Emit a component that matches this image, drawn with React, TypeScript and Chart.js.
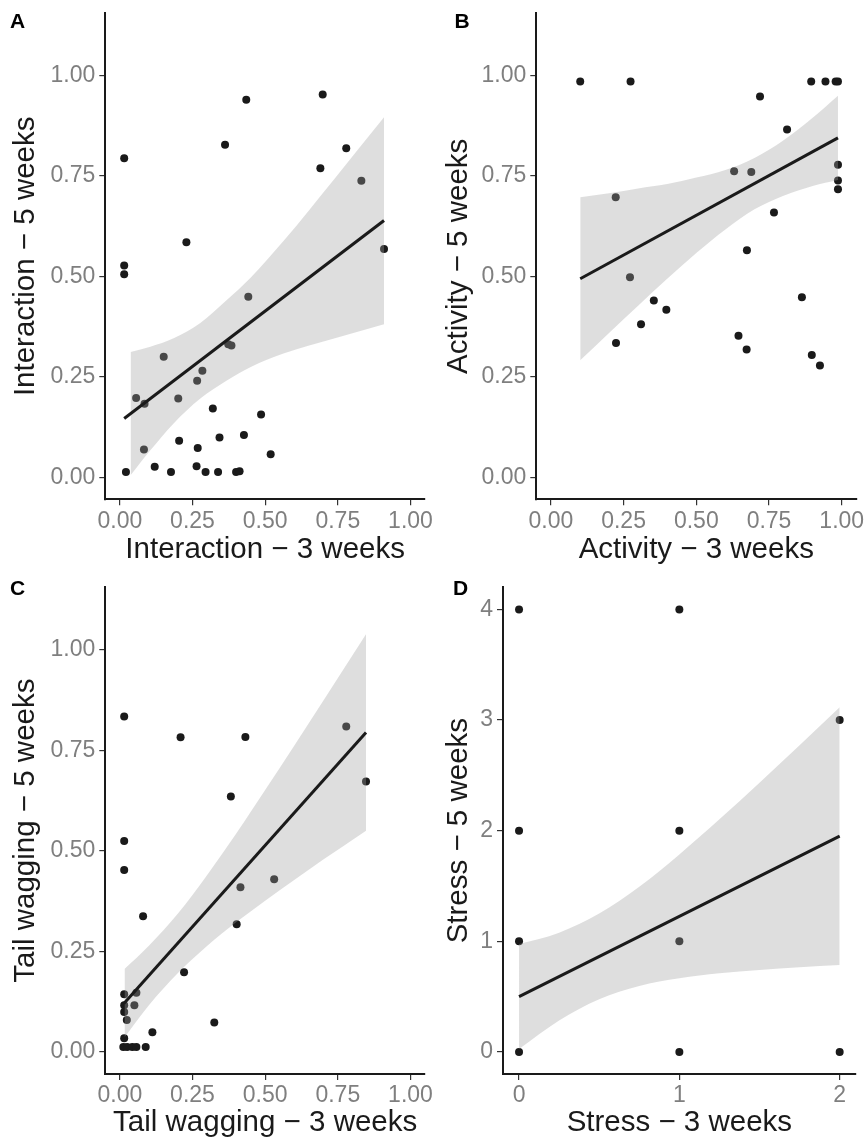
import React, { useEffect, useRef } from 'react';
import { Chart, registerables } from 'chart.js';

Chart.register(...registerables);

const FONT = '"Liberation Sans", Arial, Helvetica, sans-serif';
const INK = '#1a1a1a';
const TICK_TEXT = '#7f7f7f';
const RIBBON = 'rgba(160,160,160,0.35)';

// ---------- Panel A : Interaction ----------
const interaction3 = [0.015, 0.435, 0.698, 0.362, 0.779, 0.690, 0.831, 0.229, 0.909, 0.015, 0.015, 0.442, 0.151, 0.373, 0.384, 0.284, 0.266, 0.056, 0.085, 0.201, 0.320, 0.486, 0.204, 0.268, 0.343, 0.427, 0.519, 0.083, 0.021, 0.120, 0.176, 0.264, 0.295, 0.338, 0.400, 0.412];
const interaction5 = [0.794, 0.940, 0.953, 0.828, 0.819, 0.769, 0.738, 0.585, 0.568, 0.527, 0.505, 0.449, 0.300, 0.331, 0.328, 0.265, 0.240, 0.197, 0.183, 0.196, 0.171, 0.156, 0.091, 0.073, 0.099, 0.105, 0.057, 0.069, 0.013, 0.026, 0.013, 0.027, 0.013, 0.013, 0.013, 0.015];
const interactionFitX = [0.015, 0.909];
const interactionFitY = [0.146, 0.639];
const interactionBandX = [0.037, 0.105, 0.185, 0.277, 0.368, 0.449, 0.563, 0.734, 0.909];
const interactionBandHi = [0.312, 0.325, 0.346, 0.384, 0.441, 0.496, 0.588, 0.739, 0.896];
const interactionBandLo = [0.005, 0.067, 0.134, 0.196, 0.241, 0.274, 0.308, 0.345, 0.381];

// ---------- Panel B : Activity ----------
const activity3 = [0.101, 0.274, 0.895, 0.944, 0.979, 0.987, 0.719, 0.812, 0.630, 0.689, 0.987, 0.987, 0.987, 0.223, 0.767, 0.674, 0.272, 0.354, 0.397, 0.310, 0.224, 0.645, 0.673, 0.863, 0.897, 0.925];
const activity5 = [0.985, 0.985, 0.985, 0.985, 0.985, 0.985, 0.948, 0.866, 0.762, 0.760, 0.778, 0.739, 0.717, 0.697, 0.659, 0.565, 0.498, 0.440, 0.417, 0.381, 0.334, 0.352, 0.318, 0.448, 0.304, 0.278];
const activityFitX = [0.101, 0.987];
const activityFitY = [0.494, 0.845];
const activityBandX = [0.101, 0.2, 0.3, 0.4, 0.5, 0.6, 0.7, 0.8, 0.9, 0.987];
const activityBandHi = [0.697, 0.707, 0.719, 0.730, 0.746, 0.765, 0.795, 0.839, 0.895, 0.950];
const activityBandLo = [0.291, 0.359, 0.427, 0.494, 0.558, 0.617, 0.667, 0.701, 0.725, 0.740];

// ---------- Panel C : Tail wagging ----------
const tail3 = [0.015, 0.209, 0.432, 0.779, 0.847, 0.382, 0.015, 0.015, 0.080, 0.415, 0.531, 0.402, 0.221, 0.325, 0.015, 0.057, 0.050, 0.015, 0.015, 0.024, 0.112, 0.015, 0.012, 0.025, 0.043, 0.057, 0.089];
const tail5 = [0.834, 0.782, 0.783, 0.809, 0.672, 0.635, 0.524, 0.452, 0.337, 0.409, 0.429, 0.317, 0.198, 0.073, 0.143, 0.147, 0.116, 0.116, 0.099, 0.079, 0.049, 0.034, 0.012, 0.012, 0.012, 0.012, 0.012];
const tailFitX = [0.014, 0.847];
const tailFitY = [0.120, 0.794];
const tailBandX = [0.016, 0.1, 0.2, 0.3, 0.4, 0.5, 0.6, 0.7, 0.847];
const tailBandHi = [0.206, 0.264, 0.344, 0.439, 0.542, 0.651, 0.761, 0.873, 1.038];
const tailBandLo = [0.036, 0.116, 0.196, 0.263, 0.322, 0.376, 0.427, 0.478, 0.550];

// ---------- Panel D : Stress ----------
const stress3 = [0, 1, 2, 0, 1, 0, 1, 0, 1, 2];
const stress5 = [4, 4, 3, 2, 2, 1, 1, 0, 0, 0];
const stressFitX = [0, 2];
const stressFitY = [0.5, 1.95];
const stressBandX = [0, 0.25, 0.5, 0.75, 1, 1.25, 1.5, 1.75, 2];
const stressBandHi = [0.975, 1.078, 1.25, 1.493, 1.785, 2.102, 2.434, 2.772, 3.115];
const stressBandLo = [0.025, 0.284, 0.476, 0.595, 0.665, 0.71, 0.741, 0.766, 0.785];

// ---------- Ticks ----------
const unitTicks = [0, 0.25, 0.5, 0.75, 1];
const unitTickLabels = ['0.00', '0.25', '0.50', '0.75', '1.00'];
const stressXTicks = [0, 1, 2];
const stressXTickLabels = ['0', '1', '2'];
const stressYTicks = [0, 1, 2, 3, 4];
const stressYTickLabels = ['0', '1', '2', '3', '4'];

type Area = { left: number; top: number; right: number; bottom: number };
type PanelCfg = {
  letter: string;
  letterX: number;
  letterY: number;
  left: number;
  top: number;
  width: number;
  height: number;
  area: Area;
  xs: number[];
  ys: number[];
  fitX: number[];
  fitY: number[];
  bandX: number[];
  bandHi: number[];
  bandLo: number[];
  xMin: number;
  xMax: number;
  yMin: number;
  yMax: number;
  xTicks: number[];
  xTickLabels: string[];
  yTicks: number[];
  yTickLabels: string[];
  xTitle: string;
  yTitle: string;
  xTitlePad: number;
};

const panels: PanelCfg[] = [
  {
    letter: 'A', letterX: 10, letterY: 28,
    left: 0, top: 0, width: 433, height: 570,
    area: { left: 105.3, top: 13.3, right: 425, bottom: 499.3 },
    xs: interaction3, ys: interaction5,
    fitX: interactionFitX, fitY: interactionFitY,
    bandX: interactionBandX, bandHi: interactionBandHi, bandLo: interactionBandLo,
    xMin: -0.05, xMax: 1.05, yMin: -0.055, yMax: 1.155,
    xTicks: unitTicks, xTickLabels: unitTickLabels,
    yTicks: unitTicks, yTickLabels: unitTickLabels,
    xTitle: 'Interaction − 3 weeks', yTitle: 'Interaction − 5 weeks',
    xTitlePad: 5.2,
  },
  {
    letter: 'B', letterX: 21.5, letterY: 27.5,
    left: 433, top: 0, width: 433, height: 570,
    area: { left: 103.3, top: 13.3, right: 423.3, bottom: 499.3 },
    xs: activity3, ys: activity5,
    fitX: activityFitX, fitY: activityFitY,
    bandX: activityBandX, bandHi: activityBandHi, bandLo: activityBandLo,
    xMin: -0.05, xMax: 1.05, yMin: -0.055, yMax: 1.155,
    xTicks: unitTicks, xTickLabels: unitTickLabels,
    yTicks: unitTicks, yTickLabels: unitTickLabels,
    xTitle: 'Activity − 3 weeks', yTitle: 'Activity − 5 weeks',
    xTitlePad: 5.2,
  },
  {
    letter: 'C', letterX: 10, letterY: 25,
    left: 0, top: 570, width: 433, height: 569,
    area: { left: 105.3, top: 17.3, right: 425, bottom: 504 },
    xs: tail3, ys: tail5,
    fitX: tailFitX, fitY: tailFitY,
    bandX: tailBandX, bandHi: tailBandHi, bandLo: tailBandLo,
    xMin: -0.05, xMax: 1.05, yMin: -0.055, yMax: 1.155,
    xTicks: unitTicks, xTickLabels: unitTickLabels,
    yTicks: unitTicks, yTickLabels: unitTickLabels,
    xTitle: 'Tail wagging − 3 weeks', yTitle: 'Tail wagging − 5 weeks',
    xTitlePad: 1.6,
  },
  {
    letter: 'D', letterX: 20, letterY: 25,
    left: 433, top: 570, width: 433, height: 569,
    area: { left: 70, top: 17.3, right: 422.7, bottom: 504 },
    xs: stress3, ys: stress5,
    fitX: stressFitX, fitY: stressFitY,
    bandX: stressBandX, bandHi: stressBandHi, bandLo: stressBandLo,
    xMin: -0.1, xMax: 2.1, yMin: -0.2, yMax: 4.2,
    xTicks: stressXTicks, xTickLabels: stressXTickLabels,
    yTicks: stressYTicks, yTickLabels: stressYTickLabels,
    xTitle: 'Stress − 3 weeks', yTitle: 'Stress − 5 weeks',
    xTitlePad: 1.6,
  },
];

function zip(xs: number[], ys: number[]) {
  return xs.map((x, i) => ({ x, y: ys[i] }));
}

function Panel({ cfg }: { cfg: PanelCfg }) {
  const ref = useRef<HTMLCanvasElement | null>(null);

  useEffect(() => {
    const c = cfg;
    const letterPlugin = {
      id: 'panelLetter',
      afterDraw(chart: any) {
        const ctx = chart.ctx as CanvasRenderingContext2D;
        ctx.save();
        ctx.font = `bold 21px ${FONT}`;
        ctx.fillStyle = '#000000';
        ctx.textAlign = 'left';
        ctx.textBaseline = 'alphabetic';
        ctx.fillText(c.letter, c.letterX, c.letterY);
        ctx.restore();
      },
    };

    const tickFont = { family: FONT, size: 23, lineHeight: 1 };
    const titleFont = { family: FONT, size: 29.5, lineHeight: 1 };
    const gridCfg = { display: true, drawOnChartArea: false, drawTicks: true, tickLength: 6, color: '#333333', lineWidth: 1.2 };
    const borderCfg = { display: true, color: INK, width: 2 };

    const chart = new Chart(ref.current as HTMLCanvasElement, {
      type: 'scatter',
      data: {
        datasets: [
          {
            type: 'line',
            data: zip(c.fitX, c.fitY),
            borderColor: INK,
            borderWidth: 3,
            pointRadius: 0,
            fill: false,
            tension: 0,
          } as any,
          {
            type: 'line',
            data: zip(c.bandX, c.bandHi),
            borderColor: 'rgba(0,0,0,0)',
            borderWidth: 0,
            pointRadius: 0,
            fill: '+1',
            backgroundColor: RIBBON,
            cubicInterpolationMode: 'monotone',
          } as any,
          {
            type: 'line',
            data: zip(c.bandX, c.bandLo),
            borderColor: 'rgba(0,0,0,0)',
            borderWidth: 0,
            pointRadius: 0,
            fill: false,
            cubicInterpolationMode: 'monotone',
          } as any,
          {
            type: 'scatter',
            data: zip(c.xs, c.ys),
            pointRadius: 4,
            pointBackgroundColor: INK,
            pointBorderWidth: 0,
            borderColor: INK,
            backgroundColor: INK,
          } as any,
        ],
      },
      options: {
        responsive: false,
        animation: false,
        events: [],
        layout: {
          padding: { left: 0, top: c.area.top, right: c.width - c.area.right, bottom: 0 },
        },
        plugins: {
          legend: { display: false },
          tooltip: { enabled: false },
        },
        scales: {
          x: {
            type: 'linear',
            position: 'bottom',
            min: c.xMin,
            max: c.xMax,
            afterBuildTicks: (s: any) => {
              s.ticks = c.xTicks.map((v) => ({ value: v }));
            },
            afterFit: (s: any) => {
              s.height = c.height - c.area.bottom;
              s.paddingLeft = 0;
              s.paddingRight = 0;
              s.paddingTop = 0;
              s.paddingBottom = 0;
            },
            grid: gridCfg,
            border: borderCfg,
            ticks: {
              autoSkip: false,
              maxRotation: 0,
              padding: 4.5,
              color: TICK_TEXT,
              font: tickFont,
              callback: (_v: any, i: number) => c.xTickLabels[i],
            },
            title: {
              display: true,
              text: c.xTitle,
              color: INK,
              font: titleFont,
              padding: { top: 0, bottom: c.xTitlePad },
            },
          },
          y: {
            type: 'linear',
            position: 'left',
            min: c.yMin,
            max: c.yMax,
            afterBuildTicks: (s: any) => {
              s.ticks = c.yTicks.map((v) => ({ value: v }));
            },
            afterFit: (s: any) => {
              s.width = c.area.left;
              s.paddingLeft = 0;
              s.paddingRight = 0;
              s.paddingTop = 0;
              s.paddingBottom = 0;
            },
            grid: gridCfg,
            border: borderCfg,
            ticks: {
              autoSkip: false,
              padding: 4,
              color: TICK_TEXT,
              font: tickFont,
              callback: (_v: any, i: number) => c.yTickLabels[i],
            },
            title: {
              display: true,
              text: c.yTitle,
              color: INK,
              font: titleFont,
              padding: { top: 10.8, bottom: 0 },
            },
          },
        },
      } as any,
      plugins: [letterPlugin],
    });

    return () => {
      chart.destroy();
    };
  }, [cfg]);

  return (
    <canvas
      ref={ref}
      width={cfg.width}
      height={cfg.height}
      style={{ position: 'absolute', left: cfg.left, top: cfg.top, width: cfg.width, height: cfg.height }}
    />
  );
}

export default function App() {
  return (
    <div style={{ position: 'absolute', left: 0, top: 0, width: 866, height: 1139, background: '#ffffff', overflow: 'hidden' }}>
      {panels.map((p) => (
        <Panel key={p.letter} cfg={p} />
      ))}
    </div>
  );
}
